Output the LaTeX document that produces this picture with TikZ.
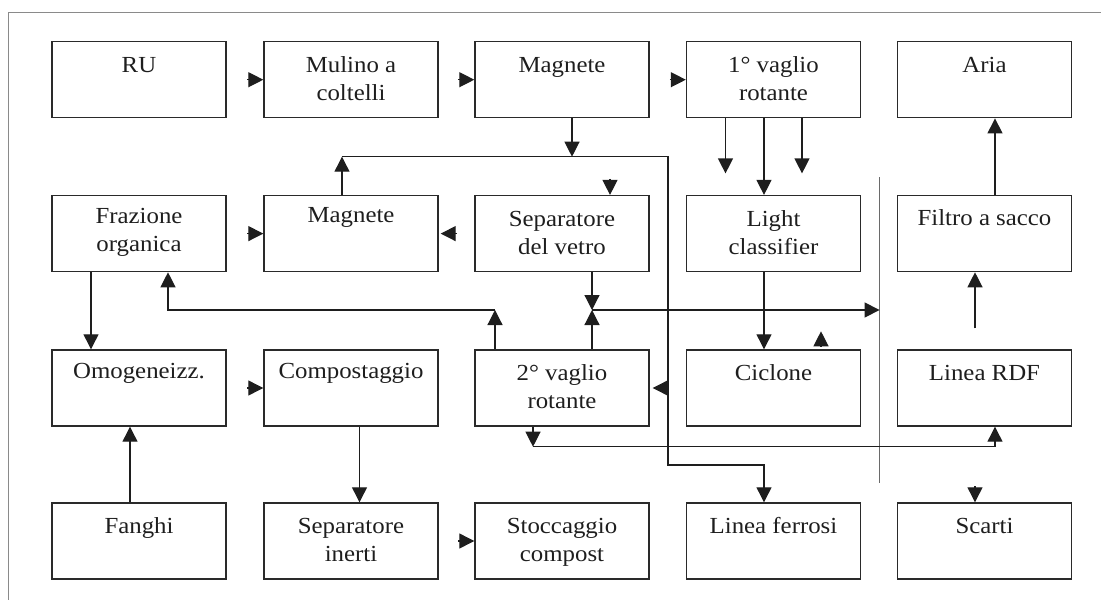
\documentclass[tikz,border=0pt]{standalone}
\usepackage{fontspec}
\setmainfont{Liberation Serif}[FakeStretch=1.08]
\usetikzlibrary{arrows.meta,calc}
\definecolor{boxc}{HTML}{2A2A2A}
\definecolor{linec}{HTML}{1E1E1E}
\definecolor{framec}{HTML}{8A8A8A}
\definecolor{sepc}{HTML}{6A6A6A}
\definecolor{textc}{HTML}{1E1E1E}
\tikzset{
  box/.style={draw=boxc, line width=1.4pt, rectangle, minimum width=174pt, minimum height=76pt, inner sep=0pt},
  lbl/.style={anchor=base, align=center, inner sep=0pt, text=textc, font=\fontsize{23}{28}\selectfont},
  conn/.style={draw=linec, line width=1.2pt},
  tip/.style={conn, -{Triangle[length=15pt,width=15pt]}},
  frame/.style={draw=framec, line width=1pt},
  sepline/.style={draw=sepc, line width=1.1pt}
}
\begin{document}
\begin{tikzpicture}[x=1pt,y=1pt]
\useasboundingbox (0,0) rectangle (1101,-600);
\draw[frame] (8,-600) -- (8,-12) -- (1101,-12);

% boxes
\def\ca{139}\def\cb{351}\def\cc{562}\def\cd{773.5}\def\ce{984.5}
\def\ra{-79.7}\def\rb{-233.6}\def\rc{-388}\def\rd{-541}
\node[box] (ru)       at (\ca,\ra) {};
\node[box] (mulino)   at (\cb,\ra) {};
\node[box] (magA)     at (\cc,\ra) {};
\node[box] (vaglio1)  at (\cd,\ra) {};
\node[box] (aria)     at (\ce,\ra) {};
\node[box] (frazione) at (\ca,\rb) {};
\node[box] (magB)     at (\cb,\rb) {};
\node[box] (sepvetro) at (\cc,\rb) {};
\node[box] (light)    at (\cd,\rb) {};
\node[box] (filtro)   at (\ce,\rb) {};
\node[box] (omog)     at (\ca,\rc) {};
\node[box] (compost)  at (\cb,\rc) {};
\node[box] (vaglio2)  at (\cc,\rc) {};
\node[box] (ciclone)  at (\cd,\rc) {};
\node[box] (rdf)      at (\ce,\rc) {};
\node[box] (fanghi)   at (\ca,\rd) {};
\node[box] (sepinerti) at (\cb,\rd) {};
\node[box] (stocc)    at (\cc,\rd) {};
\node[box] (ferrosi)  at (\cd,\rd) {};
\node[box] (scarti)   at (\ce,\rd) {};

% labels (base anchor of a two-line label is its second line)
\node[lbl] (t-ru)       at ([yshift=-31]ru.north) {RU};
\node[lbl] (t-mulino)   at ([yshift=-59.5]mulino.north) {Mulino a\\coltelli};
\node[lbl] (t-magA)     at ([yshift=-31]magA.north) {Magnete};
\node[lbl] (t-vaglio1)  at ([yshift=-59.5]vaglio1.north) {1° vaglio\\rotante};
\node[lbl] (t-aria)     at ([yshift=-31]aria.north) {Aria};
\node[lbl] (t-frazione) at ([yshift=-57]frazione.north) {Frazione\\organica};
\node[lbl] (t-magB)     at ([yshift=-28]magB.north) {Magnete};
\node[lbl] (t-sepvetro) at ([yshift=-60]sepvetro.north) {Separatore\\del vetro};
\node[lbl] (t-light)    at ([yshift=-60]light.north) {Light\\classifier};
\node[lbl] (t-filtro)   at ([yshift=-31]filtro.north) {Filtro a sacco};
\node[lbl] (t-omog)     at ([yshift=-29]omog.north) {Omogeneizz.};
\node[lbl] (t-compost)  at ([yshift=-29]compost.north) {Compostaggio};
\node[lbl] (t-vaglio2)  at ([yshift=-59]vaglio2.north) {2° vaglio\\rotante};
\node[lbl] (t-ciclone)  at ([yshift=-31]ciclone.north) {Ciclone};
\node[lbl] (t-rdf)      at ([yshift=-31]rdf.north) {Linea RDF};
\node[lbl] (t-fanghi)   at ([yshift=-31]fanghi.north) {Fanghi};
\node[lbl] (t-sepinerti) at ([yshift=-59]sepinerti.north) {Separatore\\inerti};
\node[lbl] (t-stocc)    at ([yshift=-59]stocc.north) {Stoccaggio\\compost};
\node[lbl] (t-ferrosi)  at ([yshift=-31]ferrosi.north) {Linea ferrosi};
\node[lbl] (t-scarti)   at ([yshift=-31]scarti.north) {Scarti};

% arrowheads in the gaps
\draw[tip] ([xshift=-16]mulino.west) -- (mulino.west);
\draw[tip] ([xshift=-16]magA.west) -- (magA.west);
\draw[tip] ([xshift=-16]vaglio1.west) -- (vaglio1.west);
\draw[tip] ([xshift=-16]magB.west) -- (magB.west);
\draw[tip] ([xshift=18]magB.east) -- ([xshift=2]magB.east);
\draw[tip] ([xshift=-16]compost.west) -- (compost.west);
\draw[tip] ([xshift=-16]stocc.west) -- (stocc.west);
\draw[tip] ([xshift=19]vaglio2.east) -- ([xshift=3]vaglio2.east);
\draw[tip] ([xshift=48,yshift=16]sepvetro.north) -- ([xshift=48]sepvetro.north);
\draw[tip] ([xshift=47.5,yshift=3]ciclone.north) -- ([xshift=47.5,yshift=18]ciclone.north);
\draw[tip] ([xshift=-9.5,yshift=16]scarti.north) -- ([xshift=-9.5]scarti.north);

% ferrous bus
\coordinate (busL) at (342,-156.7);
\coordinate (busR) at (668,-156.7);
\coordinate (busD) at (668,-465);
\coordinate (busE) at (764,-465);
\draw[tip] (busL) -- (busR) -- (busD) -- (busE) -- (busE |- ferrosi.north);
\draw[tip] ([xshift=10]magA.south) -- ([xshift=10]magA.south |- busL);
\draw[tip] ([xshift=-9]magB.north) -- ([xshift=-9]magB.north |- busL);

% 1st rotating screen
\draw[tip] ([xshift=-48]vaglio1.south) -- ++(0,-55);
\draw[tip] ([xshift=-9.5]vaglio1.south) -- ([xshift=-9.5]light.north);
\draw[tip] ([xshift=28.5]vaglio1.south) -- ++(0,-55);
\draw[tip] ([xshift=-9.5]light.south) -- ([xshift=-9.5]ciclone.north);

% right column
\draw[tip] ([xshift=10.5]filtro.north) -- ([xshift=10.5]aria.south);
\coordinate (rdfout) at ([xshift=-9.5,yshift=21]rdf.north);
\draw[tip] (rdfout) -- (rdfout |- filtro.south);

% separator line
\coordinate (sepT) at (879.6,-177);
\coordinate (sepB) at (879.6,-483);
\draw[sepline] (sepT) -- (sepB);

% junction to the right
\coordinate (j2) at (592,-310);
\draw[tip] ([xshift=30]sepvetro.south) -- ([xshift=30]sepvetro.south |- j2);
\draw[tip] ([xshift=30]vaglio2.north) -- ([xshift=30]vaglio2.north |- j2);
\draw[tip] (j2) -- (j2 -| sepT);

% back to organic fraction
\coordinate (j1) at (495,-310);
\coordinate (frin) at ([xshift=29]frazione.south);
\draw[tip] ([xshift=-67]vaglio2.north) -- (j1);
\draw[tip] (j1) -- (j1 -| frin) -- (frin);

% left column
\draw[tip] ([xshift=-48]frazione.south) -- ([xshift=-48]omog.north);
\draw[tip] ([xshift=-9]fanghi.north) -- ([xshift=-9]omog.south);
\draw[tip] ([xshift=8.5]compost.south) -- ([xshift=8.5]sepinerti.north);

% 2nd screen to RDF
\coordinate (j3) at ([xshift=-29,yshift=-20]vaglio2.south);
\coordinate (rdfin) at ([xshift=10.5]rdf.south);
\draw[tip] ([xshift=-29]vaglio2.south) -- (j3);
\draw[tip] (j3) -- (j3 -| rdfin) -- (rdfin);
\end{tikzpicture}
\end{document}
